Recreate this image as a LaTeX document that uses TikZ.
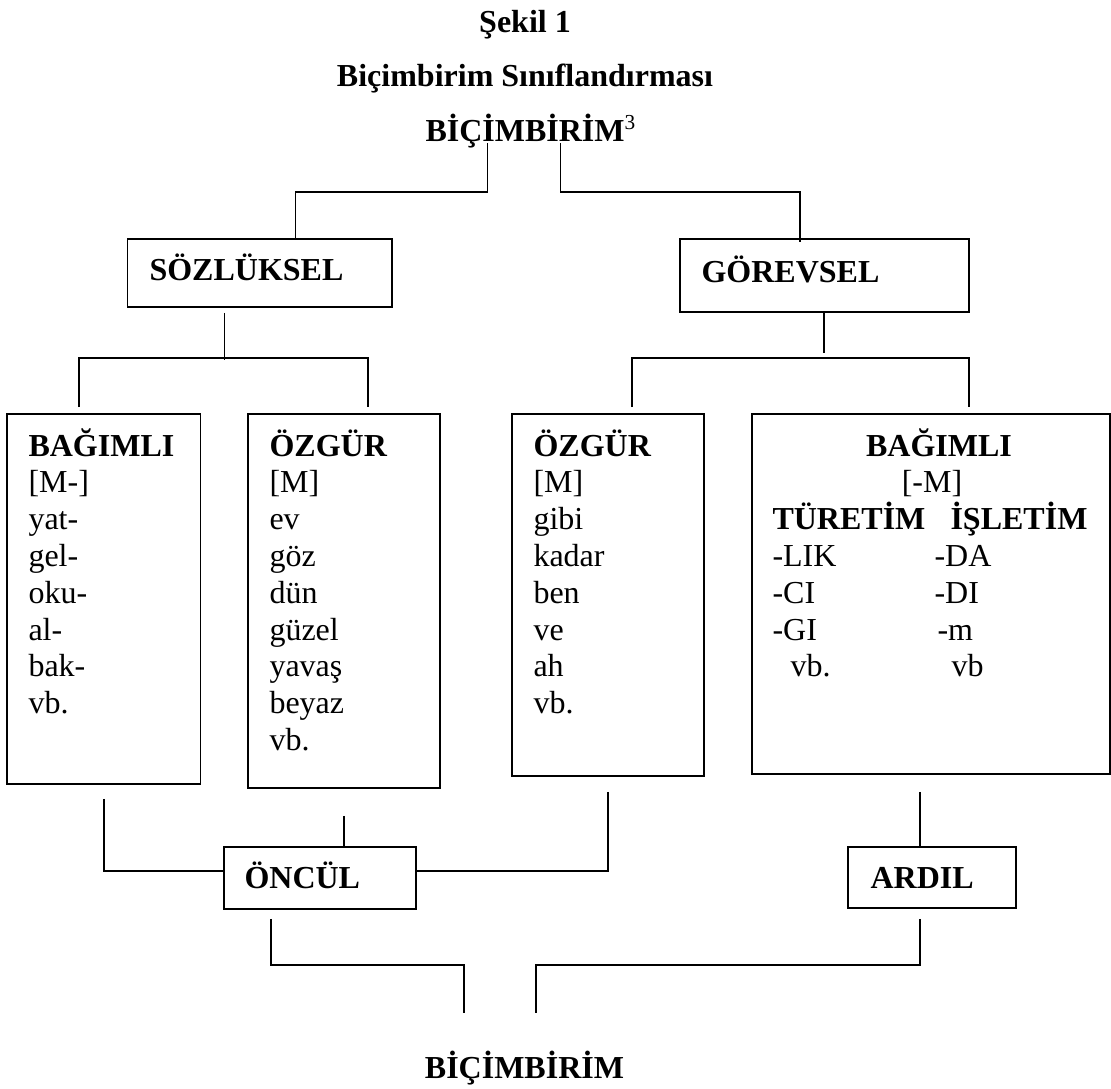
\documentclass[tikz,border=0pt]{standalone}
\usepackage{fontspec}
\setmainfont{Liberation Serif}
\usetikzlibrary{positioning,fit}

\tikzset{
  box/.style={draw,line width=0.7pt,inner sep=0pt},
  head/.style={font=\fontsize{12}{13.8}\selectfont\bfseries,inner sep=0pt,anchor=base west},
  word/.style={font=\fontsize{12}{13.8}\selectfont,inner sep=0pt,anchor=base west},
  conn/.style={line width=0.55pt}
}

\begin{document}
\begin{tikzpicture}[x=0.375pt,y=-0.375pt]
  \useasboundingbox (0,0) rectangle (1111,1088);

  % titles
  \node (fig)   [head,anchor=base] at (525,32)  {Şekil 1};
  \node (title) [head,anchor=base] at (525,86)  {Biçimbirim Sınıflandırması};
  \node (root)  [head]             at (425,141) {BİÇİMBİRİM\textsuperscript{\mdseries 3}};
  \node (root2) [head,anchor=base] at (524.5,1078) {BİÇİMBİRİM};

  % boxes
  \node (soz)  [box,fit={(127.5,239) (392,307)}] {};
  \node (gor)  [box,fit={(680,239) (969,312)}] {};
  \node (bag1) [box,fit={(7,414) (200.5,784)}] {};
  \node (ozg1) [box,fit={(248,414) (440,788)}] {};
  \node (ozg2) [box,fit={(512,414) (704,776)}] {};
  \node (bag2) [box,fit={(752,414) (1110,774)}] {};
  \node (onc)  [box,fit={(224,847) (416,909)}] {};
  \node (ard)  [box,fit={(848,847) (1016,908)}] {};

  \node (sozt) [head] at (149,280) {SÖZLÜKSEL};
  \node (gort) [head] at (701,282) {GÖREVSEL};
  \node (onct) [head] at (244,888) {ÖNCÜL};
  \node (ardt) [head] at (870,888) {ARDIL};

  % word lists
  \node (bag1t) [head] at (28,456)  {BAĞIMLI};
  \foreach \w [count=\i] in {{[M-]},yat-,gel-,oku-,al-,bak-,vb.}
    \node (bag1w\i) [word] at (28,456+\i*36.8) {\w};
  \node (ozg1t) [head] at (269,456) {ÖZGÜR};
  \foreach \w [count=\i] in {{[M]},ev,göz,dün,güzel,yavaş,beyaz,vb.}
    \node (ozg1w\i) [word] at (269,456+\i*36.8) {\w};
  \node (ozg2t) [head] at (533,456) {ÖZGÜR};
  \foreach \w [count=\i] in {{[M]},gibi,kadar,ben,ve,ah,vb.}
    \node (ozg2w\i) [word] at (533,456+\i*36.8) {\w};

  \node (bag2t) [head,anchor=base] at (939,456)   {BAĞIMLI};
  \node (bag2m) [word,anchor=base] at (932,492.8) {[-M]};
  \node (tur)   [head] at (772,529.6) {TÜRETİM};
  \node (isl)   [head] at (950,529.6) {İŞLETİM};
  \node (tur1)  [word] at (772,566.4) {-LIK};
  \node (isl1)  [word] at (934,566.4) {-DA};
  \node (tur2)  [word] at (772,603.2) {-CI};
  \node (isl2)  [word] at (934,603.2) {-DI};
  \node (tur3)  [word] at (772,640)   {-GI};
  \node (isl3)  [word] at (937,640)   {-m};
  \node (tur4)  [word] at (790,676.8) {vb.};
  \node (isl4)  [word] at (951,676.8) {vb};

  % connectors
  \coordinate (rl) at (487.5,143);
  \coordinate (rr) at (560.5,143);
  \coordinate (bl) at (464,1013);
  \coordinate (br) at (536,1013);

  \draw[conn] (rl) -- ++(0,49) -| ([shift={(36,0)}]soz.north);
  \draw[conn] (rr) -- ++(0,49) -| ([shift={(-24.5,4)}]gor.north);

  \draw[conn] ([shift={(-35.5,5)}]soz.south) -- ++(0,47);
  \draw[conn] ([shift={(-24.75,-6)}]bag1.north) -- ++(0,-49) -| ([shift={(24,-6)}]ozg1.north);
  \draw[conn] ([shift={(-0.5,0)}]gor.south) -- ++(0,40);
  \draw[conn] ([shift={(24,-6)}]ozg2.north) -- ++(0,-49) -| ([shift={(38,-6)}]bag2.north);

  \draw[conn] ([shift={(0.25,14)}]bag1.south) |- ([shift={(0,-7)}]onc.west);
  \draw[conn] ([shift={(0,27)}]ozg1.south) -- ([shift={(24,0)}]onc.north);
  \draw[conn] ([shift={(0,15)}]ozg2.south) |- ([shift={(0,-7)}]onc.east);
  \draw[conn] ([shift={(-11,17)}]bag2.south) -- ([shift={(-12,0)}]ard.north);

  \draw[conn] ([shift={(-49,9)}]onc.south) -- ++(0,46) -| (bl);
  \draw[conn] ([shift={(-12,10)}]ard.south) -- ++(0,46) -| (br);
\end{tikzpicture}
\end{document}
